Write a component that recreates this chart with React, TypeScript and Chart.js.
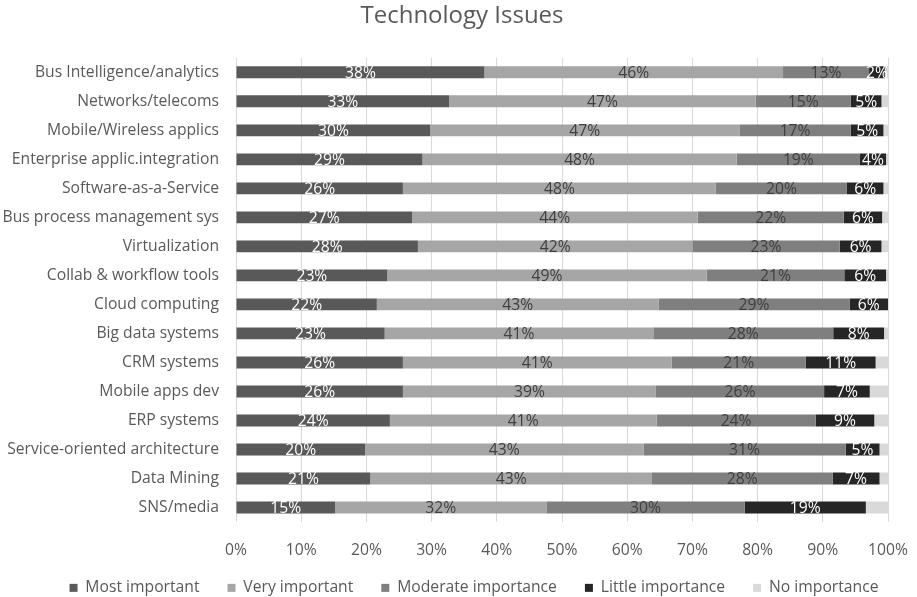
import React, { useEffect, useRef } from "react";
import { Chart, registerables } from "chart.js";

Chart.register(...registerables);

const categories = [
  "Bus Intelligence/analytics",
  "Networks/telecoms",
  "Mobile/Wireless applics",
  "Enterprise applic.integration",
  "Software-as-a-Service",
  "Bus process management sys",
  "Virtualization",
  "Collab & workflow tools",
  "Cloud computing",
  "Big data systems",
  "CRM systems",
  "Mobile apps dev",
  "ERP systems",
  "Service-oriented architecture",
  "Data Mining",
  "SNS/media",
];

const mostImportant = [38.1, 32.7, 29.8, 28.6, 25.6, 27.0, 27.9, 23.2, 21.6, 22.8, 25.6, 25.6, 23.6, 19.8, 20.6, 15.2];
const veryImportant = [45.8, 47.0, 47.4, 48.2, 48.0, 43.8, 42.1, 49.0, 43.2, 41.2, 41.2, 38.8, 40.9, 42.7, 43.2, 32.4];
const moderateImportance = [13.2, 14.6, 17.1, 18.9, 20.1, 22.4, 22.6, 21.1, 29.3, 27.6, 20.6, 25.8, 24.4, 31.0, 27.7, 30.4];
const littleImportance = [2.4, 4.7, 5.0, 4.0, 5.6, 5.9, 6.4, 6.4, 5.9, 7.8, 10.7, 7.0, 9.0, 5.2, 7.2, 18.6];
const noImportance = [0.5, 1.0, 0.7, 0.3, 0.7, 0.9, 1.0, 0.3, 0.0, 0.6, 1.9, 2.8, 2.1, 1.3, 1.3, 3.4];

const seriesNames = ["Most important", "Very important", "Moderate importance", "Little importance", "No importance"];
const seriesColors = ["#595959", "#a6a6a6", "#7f7f7f", "#262626", "#d9d9d9"];
const labelColors = ["#ffffff", "#404040", "#404040", "#ffffff", null];
const xTicks = [0, 10, 20, 30, 40, 50, 60, 70, 80, 90, 100];

const FONT = "'Open Sans', 'Noto Sans', sans-serif";
const FS = 15.7;

const dataLabelPlugin = {
  id: "dataLabels",
  afterDatasetsDraw(chart: any) {
    const ctx = chart.ctx;
    chart.data.datasets.forEach((ds: any, di: number) => {
      const color = labelColors[di];
      if (!color) return;
      const meta = chart.getDatasetMeta(di);
      meta.data.forEach((bar: any, i: number) => {
        const v = ds.data[i];
        if (!v) return;
        const cx = (bar.x + bar.base) / 2;
        ctx.save();
        ctx.font = `${FS}px ${FONT}`;
        ctx.fillStyle = color;
        ctx.textAlign = "center";
        ctx.textBaseline = "middle";
        ctx.fillText(Math.round(v) + "%", cx, bar.y + 1);
        ctx.restore();
      });
    });
  },
};

const shiftPlugin = {
  id: "shiftBoxes",
  afterLayout(chart: any) {
    if (chart.titleBlock) {
      chart.titleBlock.left += 18;
      chart.titleBlock.right += 18;
    }
    if (chart.legend) {
      chart.legend.left += 30;
      chart.legend.right += 30;
      chart.legend.top = 552;
      chart.legend.bottom = 597;
      chart.legend.height = 45;
    }
  },
};

export default function App() {
  const ref = useRef<HTMLCanvasElement | null>(null);
  useEffect(() => {
    if (!ref.current) return;
    const data = [mostImportant, veryImportant, moderateImportance, littleImportance, noImportance];
    const chart = new Chart(ref.current, {
      type: "bar",
      data: {
        labels: categories,
        datasets: data.map((d, i) => ({
          label: seriesNames[i],
          data: d,
          backgroundColor: seriesColors[i],
          borderWidth: 0,
          barPercentage: 0.82,
          categoryPercentage: 0.5,
        })),
      },
      options: {
        indexAxis: "y",
        animation: false,
        responsive: true,
        maintainAspectRatio: false,
        layout: { padding: { left: 0, right: 29, top: 0, bottom: 0 } },
        plugins: {
          title: {
            display: true,
            text: "Technology Issues",
            color: "#595959",
            font: { family: FONT, size: 24, weight: "normal" },
            padding: { top: 2, bottom: 27 },
          },
          legend: {
            position: "bottom",
            maxHeight: 39,
            labels: {
              color: "#595959",
              font: { family: FONT, size: FS },
              boxWidth: 8,
              boxHeight: 8,
              padding: 28,
            },
          },
          tooltip: { enabled: false },
        },
        scales: {
          x: {
            stacked: true,
            min: 0,
            max: 100,
            afterBuildTicks: (axis: any) => {
              axis.ticks = xTicks.map((v) => ({ value: v }));
            },
            afterFit: (axis: any) => {
              axis.paddingLeft = 0;
              axis.paddingRight = 0;
              axis.height = 36;
            },
            ticks: {
              color: "#595959",
              font: { family: FONT, size: FS },
              callback: (v: any) => v + "%",
              padding: 19,
            },
            grid: { color: "#d9d9d9", drawTicks: false, lineWidth: 1 },
            border: { display: false },
          },
          y: {
            stacked: true,
            afterFit: (axis: any) => {
              axis.width = 236;
            },
            ticks: {
              color: "#595959",
              font: { family: FONT, size: FS },
              padding: 9,
            },
            grid: { display: false },
            border: { display: false },
          },
        },
      },
      plugins: [dataLabelPlugin, shiftPlugin],
    });
    return () => chart.destroy();
  }, []);
  return (
    <div style={{ position: "fixed", left: 0, top: 0, width: 917, height: 597, background: "#fff" }}>
      <canvas ref={ref} />
    </div>
  );
}
